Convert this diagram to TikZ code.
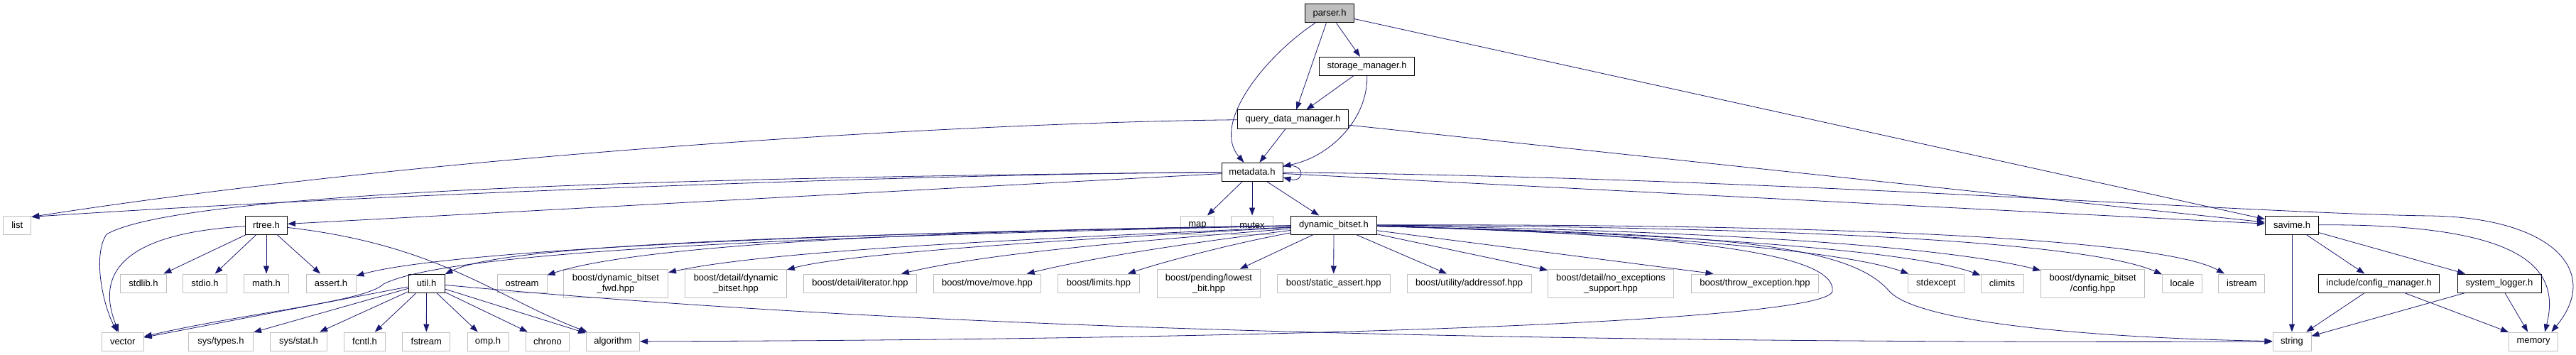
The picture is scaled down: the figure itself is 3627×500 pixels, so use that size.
\documentclass[tikz,border=0pt]{standalone}
\usepackage{fontspec}
\setmainfont{Liberation Sans}
\usetikzlibrary{arrows.meta}
\definecolor{edgeblue}{HTML}{191970}
\definecolor{greyline}{HTML}{BFBFBF}
\begin{document}
\begin{tikzpicture}[x=1pt,y=-1pt,
  every node/.style={font=\fontsize{13}{14.7}\selectfont},
  file/.style={draw=black, line width=1pt, fill=white, inner sep=0pt, minimum height=26pt, align=center},
  sys/.style={draw=greyline, line width=1pt, fill=white, inner sep=0pt, minimum height=26pt, align=center},
  tall/.style={minimum height=40pt},
  edge/.style={draw=edgeblue, line width=0.8pt, -{Triangle[length=11pt,width=8pt]}}
]
\useasboundingbox (0,0) rectangle (3627,500);
% ---- nodes
\node[file, fill=greyline, minimum width=69pt] (parser) at (1872,19) {parser.h};
\node[file, minimum width=134pt] (storage) at (1924.5,93.3) {storage\_manager.h};
\node[file, minimum width=156pt] (qdm) at (1820.5,168) {query\_data\_manager.h};
\node[file, minimum width=86pt] (meta) at (1763,242.3) {metadata.h};
\node[sys, minimum width=39pt] (list) at (24.3,317) {list};
\node[file, minimum width=59pt] (rtree) at (375,317) {rtree.h};
\node[sys, minimum width=47pt] (map) at (1686,317) {map};
\node[sys, minimum width=59pt] (mutex) at (1763,317) {mutex};
\node[file, minimum width=121pt] (dbs) at (1878,317) {dynamic\_bitset.h};
\node[file, minimum width=75pt] (savime) at (3227,317) {savime.h};
\node[sys, minimum width=65pt] (stdlib) at (202,399) {stdlib.h};
\node[sys, minimum width=62pt] (stdio) at (288.5,399) {stdio.h};
\node[sys, minimum width=63pt] (math) at (375,399) {math.h};
\node[sys, minimum width=70pt] (assert) at (466,399) {assert.h};
\node[file, minimum width=51pt] (util) at (600.5,399) {util.h};
\node[sys, minimum width=70pt] (ostream) at (735,399) {ostream};
\node[sys, tall, minimum width=147pt] (fwd) at (867,399.3) {boost/dynamic\_bitset\\\_fwd.hpp};
\node[sys, tall, minimum width=143pt] (detdyn) at (1036,399.3) {boost/detail/dynamic\\\_bitset.hpp};
\node[sys, minimum width=159pt] (iter) at (1211,399) {boost/detail/iterator.hpp};
\node[sys, minimum width=151pt] (move) at (1390,399) {boost/move/move.hpp};
\node[sys, minimum width=115pt] (limits) at (1547,399) {boost/limits.hpp};
\node[sys, tall, minimum width=145pt] (lowest) at (1702,399.3) {boost/pending/lowest\\\_bit.hpp};
\node[sys, minimum width=159pt] (static) at (1877.7,399) {boost/static\_assert.hpp};
\node[sys, minimum width=175pt] (addr) at (2068.5,399) {boost/utility/addressof.hpp};
\node[sys, tall, minimum width=177pt] (noexc) at (2268,399.3) {boost/detail/no\_exceptions\\\_support.hpp};
\node[sys, minimum width=179pt] (throw) at (2471,399) {boost/throw\_exception.hpp};
\node[sys, minimum width=79pt] (stdexcept) at (2726,399) {stdexcept};
\node[sys, minimum width=60pt] (climits) at (2819,399) {climits};
\node[sys, tall, minimum width=146pt] (config) at (2946.7,399.3) {boost/dynamic\_bitset\\/config.hpp};
\node[sys, minimum width=56pt] (locale) at (3072.6,399) {locale};
\node[sys, minimum width=65pt] (istream) at (3156.4,399) {istream};
\node[file, minimum width=170pt] (icm) at (3349.5,399) {include/config\_manager.h};
\node[file, minimum width=118pt] (syslog) at (3519,399) {system\_logger.h};
\node[sys, minimum width=59pt] (vector) at (172.7,481) {vector};
\node[sys, minimum width=91pt] (systypes) at (311,481) {sys/types.h};
\node[sys, minimum width=80pt] (sysstat) at (420.5,481) {sys/stat.h};
\node[sys, minimum width=58pt] (fcntl) at (513.5,481) {fcntl.h};
\node[sys, minimum width=67pt] (fstream) at (600.3,481) {fstream};
\node[sys, minimum width=58pt] (omp) at (687,481) {omp.h};
\node[sys, minimum width=61pt] (chrono) at (771,481) {chrono};
\node[sys, minimum width=75pt] (algorithm) at (863,481) {algorithm};
\node[sys, minimum width=54pt] (string) at (3227,481) {string};
\node[sys, minimum width=69pt] (memory) at (3567,481) {memory};
% ---- edges from parser.h, storage_manager.h, query_data_manager.h
\draw[edge] (parser) .. controls (1780,80) and (1705,175) .. (meta);
\draw[edge] (parser) -- (qdm);
\draw[edge] (parser) -- (storage);
\draw[edge] (parser) -- (savime);
\draw[edge] (storage) -- (qdm);
\draw[edge] (storage) .. controls (1926,170) and (1870,222) .. (meta);
\draw[edge] (qdm) -- (meta);
\draw[edge] (qdm) .. controls (1400,172) and (650,212) .. (list.30);
\draw[edge] (qdm) -- (savime);
% ---- edges from metadata.h
\draw[edge] (meta.10) .. controls +(32,-8) and +(32,8) .. (meta.-10);
\draw[edge] (meta) .. controls (1300,245) and (500,275) .. (list.30);
\draw[edge] (meta) .. controls (900,250) and (250,272) .. (150,330) .. controls (130,360) and (145,430) .. (vector);
\draw[edge] (meta) -- (rtree);
\draw[edge] (meta) -- (map);
\draw[edge] (meta) -- (mutex);
\draw[edge] (meta) -- (dbs);
\draw[edge] (meta) -- (savime);
\draw[edge] (meta) .. controls (2500,250) and (3150,300) .. (3420,304) .. controls (3590,306) and (3665,380) .. (memory.28);
% ---- edges from rtree.h
\draw[edge] (rtree) -- (stdlib);
\draw[edge] (rtree) -- (stdio);
\draw[edge] (rtree) -- (math);
\draw[edge] (rtree) -- (assert);
\draw[edge] (rtree) .. controls (150,330) and (140,400) .. (vector);
\draw[edge] (rtree) .. controls (620,345) and (700,420) .. (algorithm);
% ---- edges from util.h
\draw[edge] (util) -- (vector);
\draw[edge] (util) -- (systypes);
\draw[edge] (util) -- (sysstat);
\draw[edge] (util) -- (fcntl);
\draw[edge] (util) -- (fstream);
\draw[edge] (util) -- (omp);
\draw[edge] (util) -- (chrono);
\draw[edge] (util) -- (algorithm);
\draw[edge] (util) .. controls (1100,445) and (1800,485) .. (string);
% ---- edges from savime.h and its includes
\draw[edge] (savime) -- (string);
\draw[edge] (savime) -- (icm);
\draw[edge] (savime) -- (syslog);
\draw[edge] (savime) .. controls (3560,315) and (3605,380) .. (memory.40);
\draw[edge] (icm) -- (string);
\draw[edge] (icm) -- (memory);
\draw[edge] (syslog) -- (string);
\draw[edge] (syslog) -- (memory);
% ---- edges from dynamic_bitset.h
\draw[edge] (dbs) -- (lowest);
\draw[edge] (dbs) -- (static);
\draw[edge] (dbs) -- (addr);
\draw[edge] (dbs) -- (noexc);
\draw[edge] (dbs) -- (throw.167);
\draw[edge] (dbs) .. controls (2350,330) and (2600,355) .. (stdexcept);
\draw[edge] (dbs) .. controls (2400,330) and (2700,355) .. (climits);
\draw[edge] (dbs) .. controls (2450,325) and (2750,350) .. (config);
\draw[edge] (dbs) .. controls (2600,320) and (2950,345) .. (locale);
\draw[edge] (dbs) .. controls (2650,315) and (3050,340) .. (istream);
\draw[edge] (dbs) .. controls (2400,330) and (2600,340) .. (2660,410) .. controls (2700,455) and (2950,476) .. (string);
\draw[edge] (dbs) .. controls (2400,330) and (2585,360) .. (2580,410) .. controls (2575,450) and (1900,478) .. (algorithm);
\draw[edge] (dbs) .. controls (1300,325) and (900,345) .. (ostream);
\draw[edge] (dbs) .. controls (1500,335) and (1100,350) .. (fwd);
\draw[edge] (dbs) .. controls (1550,335) and (1200,355) .. (detdyn);
\draw[edge] (dbs) .. controls (1600,340) and (1400,355) .. (iter);
\draw[edge] (dbs) .. controls (1650,345) and (1530,365) .. (move);
\draw[edge] (dbs) .. controls (1750,340) and (1650,365) .. (limits);
\draw[edge] (dbs) .. controls (1000,330) and (600,360) .. (assert);
\draw[edge] (dbs) .. controls (1000,332) and (700,350) .. (util);
\draw[edge] (dbs) .. controls (1000,335) and (620,360) .. (540,400) .. controls (515,425) and (350,440) .. (vector);
\end{tikzpicture}
\end{document}
